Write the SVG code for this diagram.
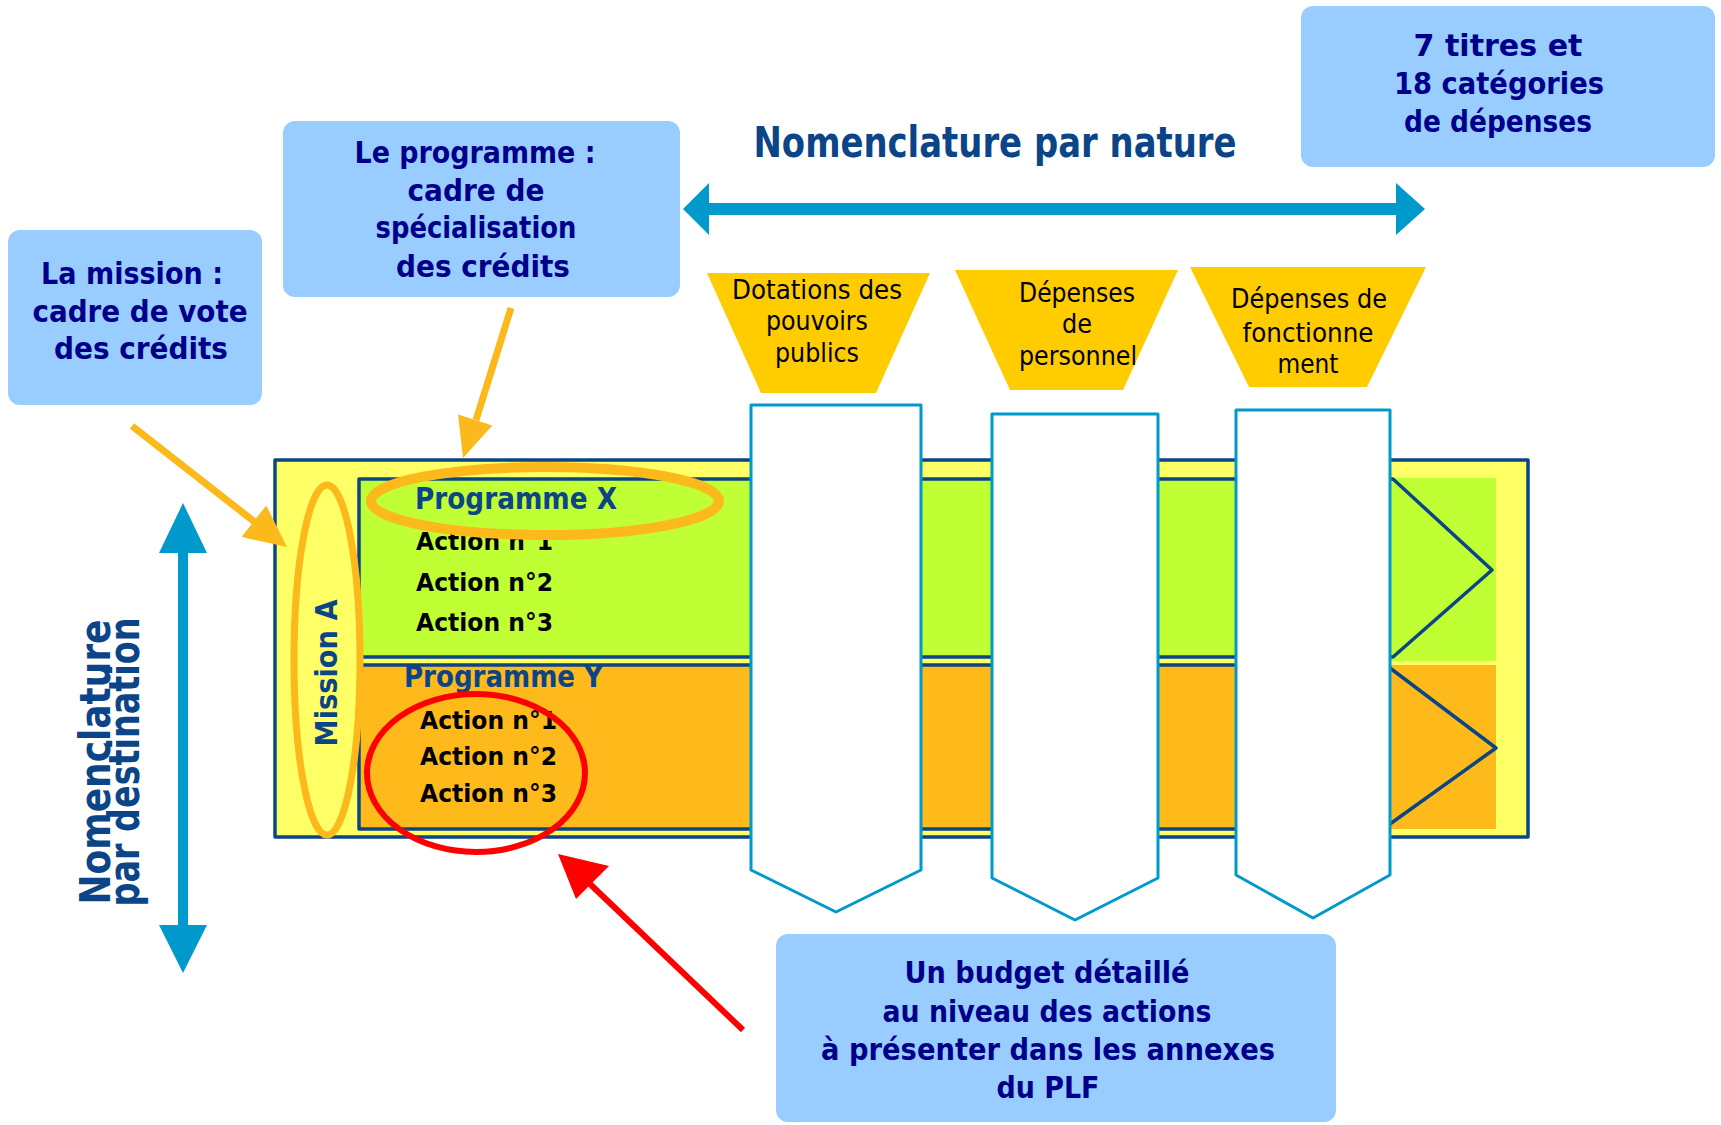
<svg xmlns="http://www.w3.org/2000/svg" width="1721" height="1125" viewBox="0 0 1721 1125">
<style>
.box{fill:#99CCFF;}
.bt{font-family:"DejaVu Sans",sans-serif;font-weight:bold;font-size:31px;fill:#00008B;text-anchor:middle;}
.title{font-family:"DejaVu Sans",sans-serif;font-weight:bold;font-size:42px;fill:#0B4587;text-anchor:middle;}
.trap{fill:#FFCC00;}
.tt{font-family:"DejaVu Sans",sans-serif;font-size:26px;fill:#000;text-anchor:middle;}
.col{fill:#fff;stroke:#0099CC;stroke-width:3;stroke-linejoin:round;}
.prog{font-family:"DejaVu Sans",sans-serif;font-weight:bold;font-size:30px;fill:#0B4587;}
.act{font-family:"DejaVu Sans",sans-serif;font-weight:bold;font-size:24px;fill:#000;}
.navy{stroke:#0A4686;stroke-width:3.5;stroke-linejoin:round;}
.blue{fill:#0099CC;}
.org{fill:#FBB91C;}
</style>

<g id="main-frame">
  <rect x="275" y="460" width="1253" height="377" fill="#FFFF66" class="navy"/>
  <rect x="1380" y="478" width="116" height="183" fill="#C0FF33"/>
  <rect x="1380" y="665" width="116" height="164" fill="#FDBA1A"/>
</g>

<g id="programme-x-band">
  <polygon points="359,479 1393,479 1492,570 1393,657 359,657" fill="#C0FF33" class="navy"/>
</g>
<g id="programme-y-band">
  <polygon points="359,665 1386,665 1496,748 1383,829 359,829" fill="#FDBA1A" class="navy"/>
</g>

<g id="col-dotations"><polygon class="col" points="751,405 921,405 921,870 836,912 751,870"/></g>
<g id="col-personnel"><polygon class="col" points="992,414 1158,414 1158,878 1075,920 992,878"/></g>
<g id="col-fonctionnement"><polygon class="col" points="1236,410 1390,410 1390,875 1313,918 1236,875"/></g>

<g id="trap-dotations">
  <polygon class="trap" points="707,273 930,273 876,393 761,393"/>
  <text class="tt" x="817" y="299" textLength="170" lengthAdjust="spacingAndGlyphs">Dotations des</text>
  <text class="tt" x="817" y="330" textLength="102" lengthAdjust="spacingAndGlyphs">pouvoirs</text>
  <text class="tt" x="817" y="362" textLength="84" lengthAdjust="spacingAndGlyphs">publics</text>
</g>
<g id="trap-personnel">
  <polygon class="trap" points="955,270 1178,270 1123,390 1010,390"/>
  <text class="tt" x="1077" y="302" textLength="116" lengthAdjust="spacingAndGlyphs">Dépenses</text>
  <text class="tt" x="1077" y="333" textLength="30" lengthAdjust="spacingAndGlyphs">de</text>
  <text class="tt" x="1078" y="365" textLength="118" lengthAdjust="spacingAndGlyphs">personnel</text>
</g>
<g id="trap-fonctionnement">
  <polygon class="trap" points="1190,267 1426,267 1367,387 1249,387"/>
  <text class="tt" x="1309" y="308" textLength="156" lengthAdjust="spacingAndGlyphs">Dépenses de</text>
  <text class="tt" x="1308" y="342" textLength="131" lengthAdjust="spacingAndGlyphs">fonctionne</text>
  <text class="tt" x="1308" y="373" textLength="61" lengthAdjust="spacingAndGlyphs">ment</text>
</g>

<g id="programme-x-labels">
  <text class="prog" x="415" y="509" textLength="202" lengthAdjust="spacingAndGlyphs">Programme X</text>
  <text class="act" x="416" y="550" textLength="137" lengthAdjust="spacingAndGlyphs">Action n°1</text>
  <text class="act" x="416" y="591" textLength="137" lengthAdjust="spacingAndGlyphs">Action n°2</text>
  <text class="act" x="416" y="631" textLength="137" lengthAdjust="spacingAndGlyphs">Action n°3</text>
</g>
<g id="programme-y-labels">
  <text class="prog" x="404" y="687" textLength="199" lengthAdjust="spacingAndGlyphs">Programme Y</text>
  <text class="act" x="420" y="729" textLength="137" lengthAdjust="spacingAndGlyphs">Action n°1</text>
  <text class="act" x="420" y="765" textLength="137" lengthAdjust="spacingAndGlyphs">Action n°2</text>
  <text class="act" x="420" y="802" textLength="137" lengthAdjust="spacingAndGlyphs">Action n°3</text>
</g>

<g id="mission-a">
  <ellipse cx="327" cy="660" rx="33" ry="175" fill="none" stroke="#FBB91C" stroke-width="7"/>
  <text class="prog" transform="translate(337,673) rotate(-90)" text-anchor="middle" textLength="147" lengthAdjust="spacingAndGlyphs">Mission A</text>
</g>
<g id="highlight-programme-x">
  <ellipse cx="545" cy="501" rx="174" ry="34" fill="none" stroke="#FBB91C" stroke-width="10"/>
</g>
<g id="highlight-actions-y">
  <ellipse cx="476" cy="773" rx="109" ry="79" fill="none" stroke="#FF0000" stroke-width="6"/>
</g>

<g id="box-mission">
  <rect class="box" x="8" y="230" width="254" height="175" rx="12"/>
  <text class="bt" x="132" y="284" textLength="182" lengthAdjust="spacingAndGlyphs">La mission :</text>
  <text class="bt" x="140" y="322" textLength="215" lengthAdjust="spacingAndGlyphs">cadre de vote</text>
  <text class="bt" x="141" y="359" textLength="174" lengthAdjust="spacingAndGlyphs">des crédits</text>
</g>
<g id="box-programme">
  <rect class="box" x="283" y="121" width="397" height="176" rx="12"/>
  <text class="bt" x="475" y="163" textLength="241" lengthAdjust="spacingAndGlyphs">Le programme :</text>
  <text class="bt" x="476" y="201" textLength="137" lengthAdjust="spacingAndGlyphs">cadre de</text>
  <text class="bt" x="476" y="238" textLength="201" lengthAdjust="spacingAndGlyphs">spécialisation</text>
  <text class="bt" x="483" y="277" textLength="174" lengthAdjust="spacingAndGlyphs">des crédits</text>
</g>
<g id="box-titres">
  <rect class="box" x="1301" y="6" width="414" height="161" rx="12"/>
  <text class="bt" x="1498" y="56" textLength="169" lengthAdjust="spacingAndGlyphs">7 titres et</text>
  <text class="bt" x="1499" y="94" textLength="210" lengthAdjust="spacingAndGlyphs">18 catégories</text>
  <text class="bt" x="1498" y="132" textLength="188" lengthAdjust="spacingAndGlyphs">de dépenses</text>
</g>
<g id="box-budget">
  <rect class="box" x="776" y="934" width="560" height="188" rx="12"/>
  <text class="bt" x="1047" y="983" textLength="285" lengthAdjust="spacingAndGlyphs">Un budget détaillé</text>
  <text class="bt" x="1047" y="1022" textLength="329" lengthAdjust="spacingAndGlyphs">au niveau des actions</text>
  <text class="bt" x="1048" y="1060" textLength="454" lengthAdjust="spacingAndGlyphs">à présenter dans les annexes</text>
  <text class="bt" x="1048" y="1098" textLength="103" lengthAdjust="spacingAndGlyphs">du PLF</text>
</g>

<g id="label-nature">
  <text class="title" x="995" y="157" textLength="483" lengthAdjust="spacingAndGlyphs">Nomenclature par nature</text>
</g>
<g id="label-destination">
  <text class="title" transform="translate(110,762) rotate(-90)" textLength="285" lengthAdjust="spacingAndGlyphs">Nomenclature</text>
  <text class="title" transform="translate(139,762) rotate(-90)" textLength="289" lengthAdjust="spacingAndGlyphs">par destination</text>
</g>

<g id="connectors">
  <rect class="blue" x="707" y="203" width="691" height="12"/>
  <polygon class="blue" points="683,209 709,183 709,235"/>
  <polygon class="blue" points="1425,209 1396,183 1396,235"/>
  <rect class="blue" x="178" y="551" width="10" height="376"/>
  <polygon class="blue" points="183,503 159,553 207,553"/>
  <polygon class="blue" points="183,973 159,925 207,925"/>
  <line x1="511" y1="308" x2="476" y2="420" stroke="#FBB91C" stroke-width="7"/>
  <polygon class="org" points="463,458 492.3,425.4 458.1,414.4"/>
  <line x1="132" y1="426" x2="256" y2="523" stroke="#FBB91C" stroke-width="7"/>
  <polygon class="org" points="287,547 241.6,537 266.2,505.4"/>
  <line x1="743" y1="1030" x2="590" y2="884" stroke="#FF0000" stroke-width="6"/>
  <polygon fill="#FF0000" points="558,854 609,866 576,899"/>
</g>
</svg>
